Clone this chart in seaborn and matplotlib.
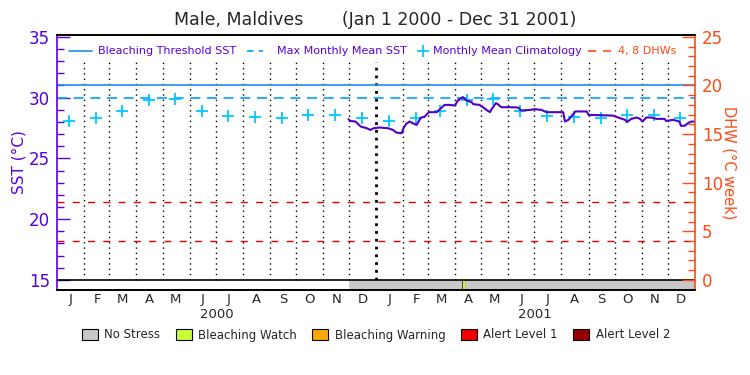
import numpy as np
import pandas as pd
import seaborn as sns
import matplotlib.pyplot as plt
import matplotlib.dates as mdates
import matplotlib.transforms as mtransforms
from matplotlib.lines import Line2D
from matplotlib.patches import Patch

# ---------------- DATA ----------------
TITLE = "Male, Maldives       (Jan 1 2000 - Dec 31 2001)"
MMM_SST = 30.0
THRESHOLD_SST = 31.0
DHW_LEVELS = [4, 8]

sst_dates = [
    "2000-11-30", "2000-12-02", "2000-12-08", "2000-12-14", "2000-12-21", "2000-12-25",
    "2000-12-29", "2001-01-05", "2001-01-14", "2001-01-20", "2001-01-24", "2001-01-30",
    "2001-02-01", "2001-02-04", "2001-02-08", "2001-02-14", "2001-02-16", "2001-02-19",
    "2001-02-21", "2001-02-25", "2001-03-02", "2001-03-11", "2001-03-14", "2001-03-20",
    "2001-03-26", "2001-04-01", "2001-04-04", "2001-04-10", "2001-04-14", "2001-04-20",
    "2001-04-22", "2001-04-29", "2001-05-03", "2001-05-07", "2001-05-11", "2001-05-13",
    "2001-05-18", "2001-05-20", "2001-05-24", "2001-06-01", "2001-06-12", "2001-06-16",
    "2001-06-27", "2001-07-01", "2001-07-09", "2001-07-15", "2001-08-03", "2001-08-05",
    "2001-08-09", "2001-08-17", "2001-08-30", "2001-09-01", "2001-09-29", "2001-10-07",
    "2001-10-13", "2001-10-15", "2001-10-20", "2001-10-26", "2001-10-30", "2001-11-02",
    "2001-11-06", "2001-11-12", "2001-11-18", "2001-11-27", "2001-11-29", "2001-12-07",
    "2001-12-14", "2001-12-16", "2001-12-20", "2001-12-24", "2001-12-28", "2001-12-31",
]
sst_values = [
    28.22, 28.08, 28.03, 27.62, 27.48, 27.34,
    27.48, 27.54, 27.48, 27.34, 27.12, 27.07,
    27.48, 27.84, 28.03, 27.81, 27.75, 28.12,
    28.36, 28.41, 28.80, 28.80, 28.99, 29.40,
    29.40, 29.35, 29.74, 30.04, 29.77, 29.63,
    29.46, 29.40, 29.21, 28.99, 28.80, 29.05,
    29.55, 29.46, 29.21, 29.21, 29.19, 28.94,
    28.99, 29.05, 28.99, 28.80, 28.80, 28.03,
    28.17, 28.86, 28.86, 28.58, 28.52, 28.31,
    28.17, 27.98, 28.25, 28.36, 28.25, 28.03,
    28.36, 28.36, 28.25, 28.25, 28.08, 28.17,
    28.03, 27.68, 27.68, 27.90, 28.03, 28.03,
]

clim_values = [28.10, 28.33, 28.90, 29.77, 29.92, 28.88,
               28.50, 28.40, 28.36, 28.56, 28.55, 28.36]
years = [2000, 2001]
month_letters = ["J", "F", "M", "A", "M", "J", "J", "A", "S", "O", "N", "D"]

stress_start = ["2000-11-30", "2001-04-09", "2001-04-13"]
stress_end = ["2001-04-09", "2001-04-13", "2002-01-01"]
stress_level = ["No Stress", "Bleaching Watch", "No Stress"]

stress_names = ["No Stress", "Bleaching Watch", "Bleaching Warning", "Alert Level 1", "Alert Level 2"]
stress_colors = ["#c8c8c8", "#c8ff32", "#ffaa00", "#f00000", "#960000"]

# ---------------- STYLE ----------------
sns.set_theme(style="white")
plt.rcParams["font.family"] = ["DejaVu Sans"]

PURPLE = "#5a00dc"
ORANGE = "#ff4a14"
SST_COLOR = "#5000c8"
THR_COLOR = "#1e8cf0"
MMM_COLOR = "#00a0ff"
CLIM_COLOR = "#00c8ff"
DHW_COLOR = "#e60000"

Y_LO, Y_HI = 14.17, 35.15
X_LO, X_HI = pd.Timestamp("2000-01-01"), pd.Timestamp("2002-01-01")

W, H = 750, 375


def fx(px):
    return px / W


def fy(py):
    return 1 - py / H


sst = pd.DataFrame({"date": pd.to_datetime(sst_dates), "sst": sst_values})
clim = pd.DataFrame({
    "date": [pd.Timestamp(y, m + 1, 15) for y in years for m in range(12)],
    "sst": clim_values * len(years),
})

# ---------------- FIGURE ----------------
fig = plt.figure(figsize=(7.5, 3.75), dpi=100)
ax = fig.add_axes([fx(57), fy(290), fx(695) - fx(57), fy(35) - fy(290)])
ax2 = ax.twinx()

# month grid
month_starts = pd.date_range("2000-02-01", "2001-12-01", freq="MS")
for d in month_starts:
    if d == pd.Timestamp("2001-01-01"):
        ax.plot([d, d], [15, 32.9], color="black", lw=2.0, ls=(0, (1, 1.8)), zorder=1)
    else:
        ax.plot([d, d], [15, 32.9], color="black", lw=1.0, ls=(0, (1, 2.8)), zorder=1)

# thresholds
ax.axhline(THRESHOLD_SST, color=THR_COLOR, lw=1.2, zorder=2)
ax.axhline(MMM_SST, color=MMM_COLOR, lw=1.2, dashes=(6, 4), zorder=2)
for lvl in DHW_LEVELS:
    ax.axhline(15 + lvl * 0.8, color=DHW_COLOR, lw=1.0, dashes=(5, 6), zorder=2)
ax.axhline(15, color="black", lw=1.2, zorder=3)

sns.scatterplot(data=clim, x="date", y="sst", marker="+", s=75, color=CLIM_COLOR,
                linewidth=1.3, ax=ax, zorder=4, legend=False)
sns.lineplot(data=sst, x="date", y="sst", color=SST_COLOR, lw=1.5, ax=ax,
             zorder=5, legend=False)

# stress bar
for s, e, lvl in zip(stress_start, stress_end, stress_level):
    s0 = mdates.date2num(pd.Timestamp(s))
    e0 = mdates.date2num(pd.Timestamp(e))
    c = stress_colors[stress_names.index(lvl)]
    ec = "black" if lvl != "No Stress" else c
    ax.bar(s0, 15 - Y_LO, width=e0 - s0, bottom=Y_LO, align="edge",
           color=c, edgecolor=ec, lw=0.5, zorder=2)

ax.set_xlim(X_LO, X_HI)
ax.set_ylim(Y_LO, Y_HI)
ax2.set_ylim((Y_LO - 15) * 1.25, (Y_HI - 15) * 1.25)

# y axes
ax.set_yticks([15, 20, 25, 30, 35])
ax.set_yticks(np.arange(15, 36, 1), minor=True)
ax.tick_params(axis="y", which="major", direction="in", length=9.5, width=1,
               color=PURPLE, labelcolor=PURPLE, labelsize=12, pad=5, left=True)
ax.tick_params(axis="y", which="minor", direction="in", length=5, width=1,
               color=PURPLE, left=True)
ax.set_ylabel("SST (°C)", color=PURPLE, fontsize=11, labelpad=2)

ax2.set_yticks([0, 5, 10, 15, 20, 25])
ax2.set_yticks(np.arange(0, 26, 1), minor=True)
ax2.tick_params(axis="y", which="major", direction="in", length=9.5, width=1,
                color=ORANGE, labelcolor=ORANGE, labelsize=12, pad=5, right=True)
ax2.tick_params(axis="y", which="minor", direction="in", length=5, width=1,
                color=ORANGE, right=True)
ax2.set_ylabel("DHW (°C week)", color=ORANGE, fontsize=10.5, rotation=-90, labelpad=10)
ax2.grid(False)

# x axis
mid_months = [pd.Timestamp(y, m + 1, 16) for y in years for m in range(12)]
ax.set_xticks(mid_months)
ax.set_xticklabels(month_letters * len(years), fontsize=9.5)
ax.tick_params(axis="x", length=0, pad=2)
ax.set_xlabel("")
ax.grid(False)
ax2.set_xlim(X_LO, X_HI)

for a in (ax, ax2):
    for sp in a.spines.values():
        sp.set_color("black")
        sp.set_linewidth(1.2)
ax.spines["left"].set_color(PURPLE)
ax.spines["right"].set_visible(False)
ax2.spines["left"].set_visible(False)
ax2.spines["right"].set_color(ORANGE)

fig.text(0.5, fy(20), TITLE, ha="center", va="center", fontsize=12.5)
trans = mtransforms.blended_transform_factory(ax.transData, fig.transFigure)
for y in years:
    mid = pd.Timestamp(y, 7, 2)
    fig.text(mdates.date2num(mid), fy(315), str(y), ha="center", va="center",
             fontsize=9.5, transform=trans)

# top legend, laid out by hand like the original
LEG_Y = fy(51)
fig.add_artist(Line2D([fx(69), fx(92)], [LEG_Y, LEG_Y], color=THR_COLOR, lw=1.2))
fig.text(fx(98), LEG_Y, "Bleaching Threshold SST", color=PURPLE, fontsize=8, va="center")
fig.add_artist(Line2D([fx(247), fx(263)], [LEG_Y, LEG_Y], color=MMM_COLOR, lw=1.2,
                      dashes=(4, 3)))
fig.text(fx(277), LEG_Y, "Max Monthly Mean SST", color=PURPLE, fontsize=8, va="center")
fig.add_artist(Line2D([fx(423)], [LEG_Y], color=CLIM_COLOR, marker="+", ls="none",
                      markersize=8, mew=1.3))
fig.text(fx(433), LEG_Y, "Monthly Mean Climatology", color=PURPLE, fontsize=8, va="center")
fig.add_artist(Line2D([fx(588), fx(611)], [LEG_Y, LEG_Y], color=ORANGE, lw=1.2,
                      dashes=(5, 4)))
fig.text(fx(618), LEG_Y, "4, 8 DHWs", color=ORANGE, fontsize=8, va="center")

# stress legend
stress_handles = [Patch(facecolor=c, edgecolor="black", lw=0.8) for c in stress_colors]
fig.legend(stress_handles, stress_names, ncol=5, loc="center",
           bbox_to_anchor=(fx(376), fy(335)), frameon=False, fontsize=8.5,
           handlelength=1.35, handleheight=0.95, handletextpad=0.55, columnspacing=1.3)

fig.savefig("out.png", dpi=100)
